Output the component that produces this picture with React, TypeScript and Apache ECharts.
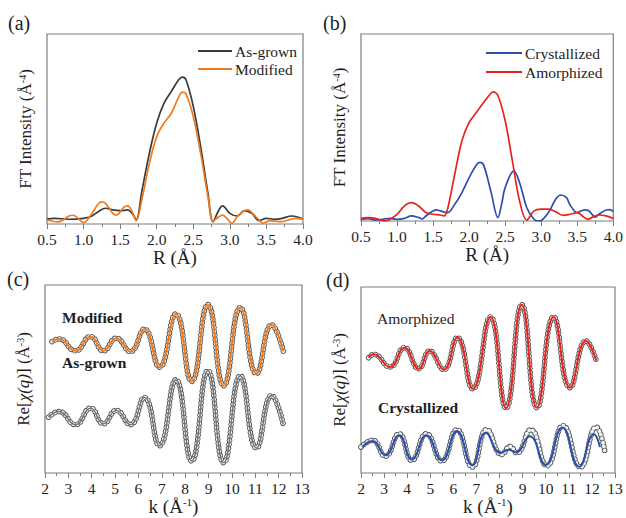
import React, { useEffect, useRef } from 'react';
import * as echarts from 'echarts';

const FONT = 'Liberation Serif, DejaVu Serif, serif';

// ---------- (a) FT magnitude ----------
const asGrownR = [0.5, 0.6, 0.8, 1.0, 1.1, 1.2, 1.3, 1.4, 1.5, 1.6, 1.68, 1.72, 1.8, 1.9, 2.0, 2.1, 2.2, 2.3, 2.35, 2.4, 2.5, 2.6, 2.7, 2.77, 2.85, 2.9, 3.0, 3.1, 3.2, 3.3, 3.4, 3.5, 3.6, 3.7, 3.85, 4.0];
const asGrownFT = [0.26, 0.30, 0.25, 0.30, 0.39, 0.65, 0.83, 0.74, 0.70, 0.74, 0.47, 0.21, 1.79, 3.73, 5.31, 6.36, 6.98, 7.59, 7.73, 7.59, 6.19, 4.08, 1.62, 0.12, 0.74, 0.95, 0.56, 0.42, 0.70, 0.56, 0.18, 0.30, 0.25, 0.28, 0.42, 0.26];
const modifiedR = [0.5, 0.65, 0.8, 0.85, 0.9, 1.0, 1.1, 1.2, 1.25, 1.3, 1.4, 1.45, 1.55, 1.6, 1.65, 1.72, 1.8, 1.9, 2.0, 2.1, 2.2, 2.3, 2.35, 2.4, 2.5, 2.6, 2.7, 2.77, 2.82, 2.9, 3.03, 3.1, 3.2, 3.25, 3.3, 3.4, 3.45, 3.55, 3.7, 3.8, 3.9, 4.0];
const modifiedFT = [0.21, 0.11, 0.42, 0.46, 0.39, 0.07, 0.47, 1.05, 1.16, 1.09, 0.56, 0.47, 0.88, 0.95, 0.77, 0.18, 1.35, 3.20, 4.60, 5.31, 5.83, 6.68, 6.94, 6.85, 5.66, 3.73, 1.44, 0.12, 0.30, 0.47, 0.04, 0.39, 0.70, 0.74, 0.60, 0.21, 0.04, 0.18, 0.12, 0.21, 0.30, 0.25];

// ---------- (b) FT magnitude ----------
const crystR = [0.5, 0.6, 0.7, 0.8, 0.9, 1.0, 1.1, 1.2, 1.3, 1.35, 1.4, 1.5, 1.55, 1.6, 1.7, 1.8, 1.9, 2.0, 2.1, 2.15, 2.2, 2.3, 2.4, 2.45, 2.5, 2.62, 2.7, 2.8, 2.9, 2.95, 3.0, 3.1, 3.2, 3.27, 3.35, 3.4, 3.5, 3.6, 3.65, 3.75, 3.8, 3.9, 3.95, 4.0];
const crystFT = [0.09, 0.13, 0.05, 0.09, 0.14, 0.09, 0.14, 0.27, 0.18, 0.11, 0.27, 0.54, 0.59, 0.54, 0.45, 0.89, 1.52, 2.32, 3.00, 3.13, 3.00, 1.61, 0.18, 0.89, 1.79, 2.68, 2.05, 0.71, 0.09, 0.0, 0.03, 0.45, 1.16, 1.39, 1.25, 0.86, 0.45, 0.59, 0.57, 0.21, 0.36, 0.59, 0.61, 0.50];
const amorR = [0.5, 0.6, 0.7, 0.8, 0.85, 0.9, 1.0, 1.1, 1.2, 1.3, 1.4, 1.5, 1.6, 1.65, 1.7, 1.8, 1.9, 2.0, 2.1, 2.2, 2.3, 2.33, 2.4, 2.5, 2.6, 2.7, 2.8, 2.9, 3.0, 3.1, 3.2, 3.3, 3.4, 3.5, 3.6, 3.65, 3.7, 3.8, 3.9, 4.0];
const amorFT = [0.14, 0.18, 0.14, 0.02, 0.0, 0.09, 0.36, 0.80, 0.98, 0.80, 0.45, 0.36, 0.32, 0.27, 0.63, 2.50, 4.29, 5.27, 5.80, 6.34, 6.82, 6.91, 6.70, 5.36, 3.21, 1.07, 0.05, 0.54, 0.63, 0.63, 0.50, 0.30, 0.36, 0.45, 0.18, 0.09, 0.18, 0.32, 0.27, 0.14];

// ---------- (c) EXAFS oscillations ----------
const modK = [2.3, 2.6, 3.3, 3.95, 4.5, 5.05, 5.65, 6.25, 6.9, 7.6, 8.28, 8.97, 9.65, 10.36, 11.05, 11.7, 12.2];
const modChi = [6.99, 7.13, 6.50, 7.26, 6.50, 7.17, 6.46, 7.65, 5.63, 8.46, 4.87, 8.96, 4.64, 8.80, 5.29, 7.88, 6.48];
const agK = [2.15, 2.6, 3.3, 3.95, 4.5, 5.05, 5.65, 6.25, 6.9, 7.6, 8.28, 8.97, 9.65, 10.36, 11.05, 11.7, 12.2];
const agChi = [2.97, 3.27, 2.57, 3.45, 2.62, 3.33, 2.57, 4.02, 1.45, 4.96, 0.64, 5.45, 0.55, 5.17, 1.33, 4.12, 2.58];

// ---------- (d) EXAFS oscillations ----------
const amK = [2.33, 2.55, 3.25, 3.88, 4.5, 4.97, 5.58, 6.17, 6.84, 7.6, 8.28, 8.96, 9.62, 10.34, 11.05, 11.74, 12.19];
const amChi = [6.20, 6.38, 5.70, 6.74, 5.61, 6.56, 5.56, 7.28, 4.53, 8.39, 3.49, 9.05, 3.51, 8.39, 4.59, 7.10, 6.04];
const crFitK = [2.05, 2.5, 3.05, 3.65, 4.2, 4.83, 5.5, 6.15, 6.82, 7.4, 8.05, 8.4, 8.7, 9.3, 10.0, 10.72, 11.45, 12.08, 12.35];
const crFitChi = [1.40, 1.72, 0.95, 2.03, 0.72, 2.03, 0.68, 2.26, 0.41, 2.17, 1.08, 1.25, 1.11, 1.97, 0.43, 2.44, 0.34, 2.08, 1.40];
const crDataK = [2.0, 2.5, 3.05, 3.65, 4.2, 4.83, 5.5, 6.15, 6.82, 7.45, 8.1, 8.45, 8.75, 9.35, 10.05, 10.75, 11.5, 12.18, 12.55];
const crDataChi = [1.40, 1.76, 0.90, 2.11, 0.68, 2.11, 0.65, 2.33, 0.32, 2.33, 0.99, 1.43, 1.08, 2.33, 0.39, 2.54, 0.32, 2.47, 1.22];

const zip = (xs: number[], ys: number[]) => xs.map((x, i) => [x, ys[i]]);

const FRAME = '#7d7d7d';
const TEXT = '#1e1e1e';

const richName = {
  n: { fontFamily: FONT, fontSize: 17, color: TEXT },
  i: { fontFamily: FONT, fontSize: 17, color: TEXT, fontStyle: 'italic' },
  s: { fontFamily: FONT, fontSize: 10, color: TEXT, verticalAlign: 'top', lineHeight: 12 },
};
const richX = {
  n: { fontFamily: FONT, fontSize: 19, color: TEXT },
  s: { fontFamily: FONT, fontSize: 11, color: TEXT, verticalAlign: 'top', lineHeight: 13 },
};

function xAxis(gridIndex: number, min: number, max: number, interval: number, name: string, dec: number) {
  return {
    type: 'value', gridIndex, min, max, interval,
    axisLine: { show: false },
    axisTick: { show: true, inside: false, length: 5, lineStyle: { color: FRAME, width: 1 } },
    minorTick: { show: true, splitNumber: 2, length: 3, lineStyle: { color: FRAME, width: 1 } },
    splitLine: { show: false },
    minorSplitLine: { show: false },
    axisLabel: { fontFamily: FONT, fontSize: 15.5, color: TEXT, margin: 7, formatter: (v: number) => v.toFixed(dec) },
    name, nameLocation: 'middle', nameGap: 17,
    nameTextStyle: { fontFamily: FONT, rich: richX },
  };
}
function yAxis(gridIndex: number, name: string) {
  return {
    type: 'value', gridIndex, min: 0, max: 10,
    axisLine: { show: false }, axisTick: { show: false }, axisLabel: { show: false }, splitLine: { show: false },
    name, nameLocation: 'middle', nameGap: 13,
    nameTextStyle: { fontFamily: FONT, rich: richName },
  };
}

function lineSeries(name: string, idx: number, xs: number[], ys: number[], color: string, width: number, smooth: number) {
  return {
    type: 'line', name, xAxisIndex: idx, yAxisIndex: idx, data: zip(xs, ys),
    showSymbol: false, symbol: 'none', smooth, color,
    lineStyle: { color, width }, silent: true,
  };
}
function circleSeries(name: string, idx: number, xs: number[], ys: number[]) {
  const common = { type: 'line', xAxisIndex: idx, yAxisIndex: idx, data: zip(xs, ys), showSymbol: false, symbol: 'none', smooth: 0.5, silent: true };
  return [
    { ...common, name: name + ' outer', lineStyle: { color: '#505050', width: 5.6, type: [0.01, 4], cap: 'round' } },
    { ...common, name: name + ' inner', lineStyle: { color: '#f4f4f4', width: 3.8, type: [0.01, 4], cap: 'round' } },
  ];
}

export default function App() {
  const ref = useRef<HTMLDivElement>(null);
  useEffect(() => {
    if (!ref.current) return;
    const chart = echarts.init(ref.current, null, { renderer: 'svg' });
    const gridStyle = { show: true, borderColor: FRAME, borderWidth: 1.2, backgroundColor: 'transparent' };
    const label = (text: string, x: number, y: number, size: number, bold = false) => ({
      type: 'text', x, y,
      style: { text, fontFamily: FONT, fontSize: size, fontWeight: bold ? 'bold' : 'normal', fill: TEXT, verticalAlign: 'middle' },
    });
    chart.setOption({
      animation: false,
      backgroundColor: '#ffffff',
      textStyle: { fontFamily: FONT },
      grid: [
        { left: 47, top: 34, width: 256, height: 190, ...gridStyle },
        { left: 361, top: 34, width: 254, height: 187, ...gridStyle },
        { left: 45, top: 285, width: 257, height: 188, ...gridStyle },
        { left: 361, top: 287, width: 254, height: 186, ...gridStyle },
      ],
      xAxis: [
        xAxis(0, 0.5, 4.0, 0.5, '{n|R (Å)}', 1),
        xAxis(1, 0.5, 4.0, 0.5, '{n|R (Å)}', 1),
        xAxis(2, 2, 13, 1, '{n|k (Å}{s|-1}{n|)}', 0),
        xAxis(3, 2, 13, 1, '{n|k (Å}{s|-1}{n|)}', 0),
      ],
      yAxis: [
        yAxis(0, '{n|FT Intensity (Å}{s|-4}{n|)}'),
        yAxis(1, '{n|FT Intensity (Å}{s|-4}{n|)}'),
        yAxis(2, '{n|Re[}{i|χ(q)}{n|] (Å}{s|-3}{n|)}'),
        yAxis(3, '{n|Re[}{i|χ(q)}{n|] (Å}{s|-3}{n|)}'),
      ],
      legend: [
        {
          data: ['As-grown', 'Modified'], left: 193, top: 38, orient: 'vertical',
          itemWidth: 34, itemHeight: 2, icon: 'rect', itemGap: 2, selectedMode: false,
          textStyle: { fontFamily: FONT, fontSize: 15.5, color: TEXT, padding: [0, 0, 0, -2] },
        },
        {
          data: ['Crystallized', 'Amorphized'], left: 481, top: 40, orient: 'vertical',
          itemWidth: 36, itemHeight: 2, icon: 'rect', itemGap: 3, selectedMode: false,
          textStyle: { fontFamily: FONT, fontSize: 15.5, color: TEXT, padding: [0, 0, 0, -2] },
        },
      ],
      graphic: [
        label('(a)', 8, 23, 20),
        label('(b)', 323, 23, 20),
        label('(c)', 7, 279, 20),
        label('(d)', 326, 280, 20),
        label('Modified', 62, 317, 15.5, true),
        label('As-grown', 62, 362, 15.5, true),
        label('Amorphized', 377, 318, 15.5),
        label('Crystallized', 378, 407, 15.5, true),
      ],
      series: [
        lineSeries('As-grown', 0, asGrownR, asGrownFT, '#3a3a3a', 1.7, 0.35),
        lineSeries('Modified', 0, modifiedR, modifiedFT, '#f07a1e', 1.7, 0.35),
        lineSeries('Crystallized', 1, crystR, crystFT, '#2c4fae', 1.7, 0.35),
        lineSeries('Amorphized', 1, amorR, amorFT, '#e8231f', 1.7, 0.35),
        ...circleSeries('Modified data', 2, modK, modChi),
        lineSeries('Modified fit', 2, modK, modChi, '#f07a1e', 2, 0.5),
        ...circleSeries('As-grown data', 2, agK, agChi),
        lineSeries('As-grown fit', 2, agK, agChi, '#707070', 1.4, 0.5),
        ...circleSeries('Amorphized data', 3, amK, amChi),
        lineSeries('Amorphized fit', 3, amK, amChi, '#e8231f', 2, 0.5),
        ...circleSeries('Crystallized data', 3, crDataK, crDataChi),
        lineSeries('Crystallized fit', 3, crFitK, crFitChi, '#2c4fae', 2, 0.5),
      ],
    });
    return () => chart.dispose();
  }, []);
  return (
    <div
      ref={ref}
      style={{ position: 'fixed', left: 0, top: 0, width: 626, height: 518, background: '#fff' }}
    />
  );
}
